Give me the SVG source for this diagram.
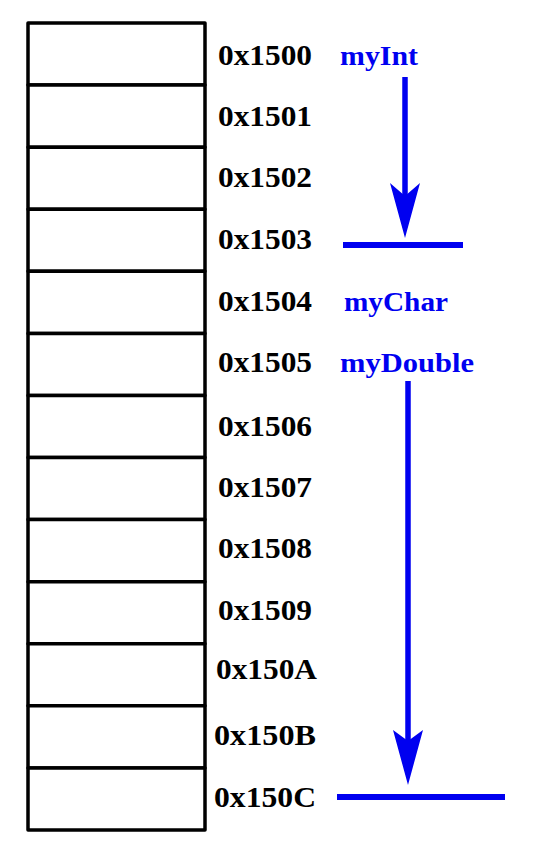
<svg xmlns="http://www.w3.org/2000/svg" width="556" height="858" viewBox="0 0 556 858">
<style>
.cell{fill:#fff;stroke:#000;stroke-width:3.5;stroke-linejoin:round}
.addr{font-family:"Liberation Serif","Times New Roman",serif;font-weight:bold;font-size:30px;fill:#000}
.var{font-family:"Liberation Serif","Times New Roman",serif;font-weight:bold;font-size:28px;fill:#0000f0}
.shaft{stroke:#0000f0;stroke-width:5.5;fill:none}
.bar{stroke:#0000f0;stroke-width:6;fill:none}
.head{fill:#0000f0}
</style>
<rect width="556" height="858" fill="#fff"/>
<g id="memory">
<g id="cell-1500"><rect class="cell" x="28" y="23" width="177" height="62.08"/><text class="addr" x="218" y="65" textLength="94" lengthAdjust="spacingAndGlyphs">0x1500</text></g>
<g id="cell-1501"><rect class="cell" x="28" y="85.08" width="177" height="62.08"/><text class="addr" x="218" y="126" textLength="94" lengthAdjust="spacingAndGlyphs">0x1501</text></g>
<g id="cell-1502"><rect class="cell" x="28" y="147.15" width="177" height="62.08"/><text class="addr" x="218" y="187" textLength="94" lengthAdjust="spacingAndGlyphs">0x1502</text></g>
<g id="cell-1503"><rect class="cell" x="28" y="209.23" width="177" height="62.08"/><text class="addr" x="218" y="249" textLength="94" lengthAdjust="spacingAndGlyphs">0x1503</text></g>
<g id="cell-1504"><rect class="cell" x="28" y="271.31" width="177" height="62.08"/><text class="addr" x="218" y="311" textLength="94" lengthAdjust="spacingAndGlyphs">0x1504</text></g>
<g id="cell-1505"><rect class="cell" x="28" y="333.38" width="177" height="62.08"/><text class="addr" x="218" y="372" textLength="94" lengthAdjust="spacingAndGlyphs">0x1505</text></g>
<g id="cell-1506"><rect class="cell" x="28" y="395.46" width="177" height="62.08"/><text class="addr" x="218" y="436" textLength="94" lengthAdjust="spacingAndGlyphs">0x1506</text></g>
<g id="cell-1507"><rect class="cell" x="28" y="457.54" width="177" height="62.08"/><text class="addr" x="218" y="497" textLength="94" lengthAdjust="spacingAndGlyphs">0x1507</text></g>
<g id="cell-1508"><rect class="cell" x="28" y="519.62" width="177" height="62.08"/><text class="addr" x="218" y="558" textLength="94" lengthAdjust="spacingAndGlyphs">0x1508</text></g>
<g id="cell-1509"><rect class="cell" x="28" y="581.69" width="177" height="62.08"/><text class="addr" x="218" y="620" textLength="94" lengthAdjust="spacingAndGlyphs">0x1509</text></g>
<g id="cell-150A"><rect class="cell" x="28" y="643.77" width="177" height="62.08"/><text class="addr" x="216" y="679" textLength="101" lengthAdjust="spacingAndGlyphs">0x150A</text></g>
<g id="cell-150B"><rect class="cell" x="28" y="705.85" width="177" height="62.08"/><text class="addr" x="214" y="745" textLength="102" lengthAdjust="spacingAndGlyphs">0x150B</text></g>
<g id="cell-150C"><rect class="cell" x="28" y="767.92" width="177" height="62.08"/><text class="addr" x="214" y="807" textLength="102" lengthAdjust="spacingAndGlyphs">0x150C</text></g>
</g>
<g id="labels">
<text id="myInt" class="var" x="340" y="65" textLength="78" lengthAdjust="spacingAndGlyphs">myInt</text>
<text id="myChar" class="var" x="344" y="311" textLength="104" lengthAdjust="spacingAndGlyphs">myChar</text>
<text id="myDouble" class="var" x="340" y="372" textLength="134" lengthAdjust="spacingAndGlyphs">myDouble</text>
</g>
<g id="connectors">
<line class="shaft" x1="405" y1="77" x2="405" y2="200"/>
<path class="head" d="M390,183 L405,196 L420,183 L405,238 Z"/>
<line class="bar" x1="343" y1="245" x2="463" y2="245"/>
<line class="shaft" x1="408" y1="381" x2="408" y2="745"/>
<path class="head" d="M393,730 L408,741 L423,730 L408,785 Z"/>
<line class="bar" x1="337" y1="797" x2="505" y2="797"/>
</g>
</svg>
